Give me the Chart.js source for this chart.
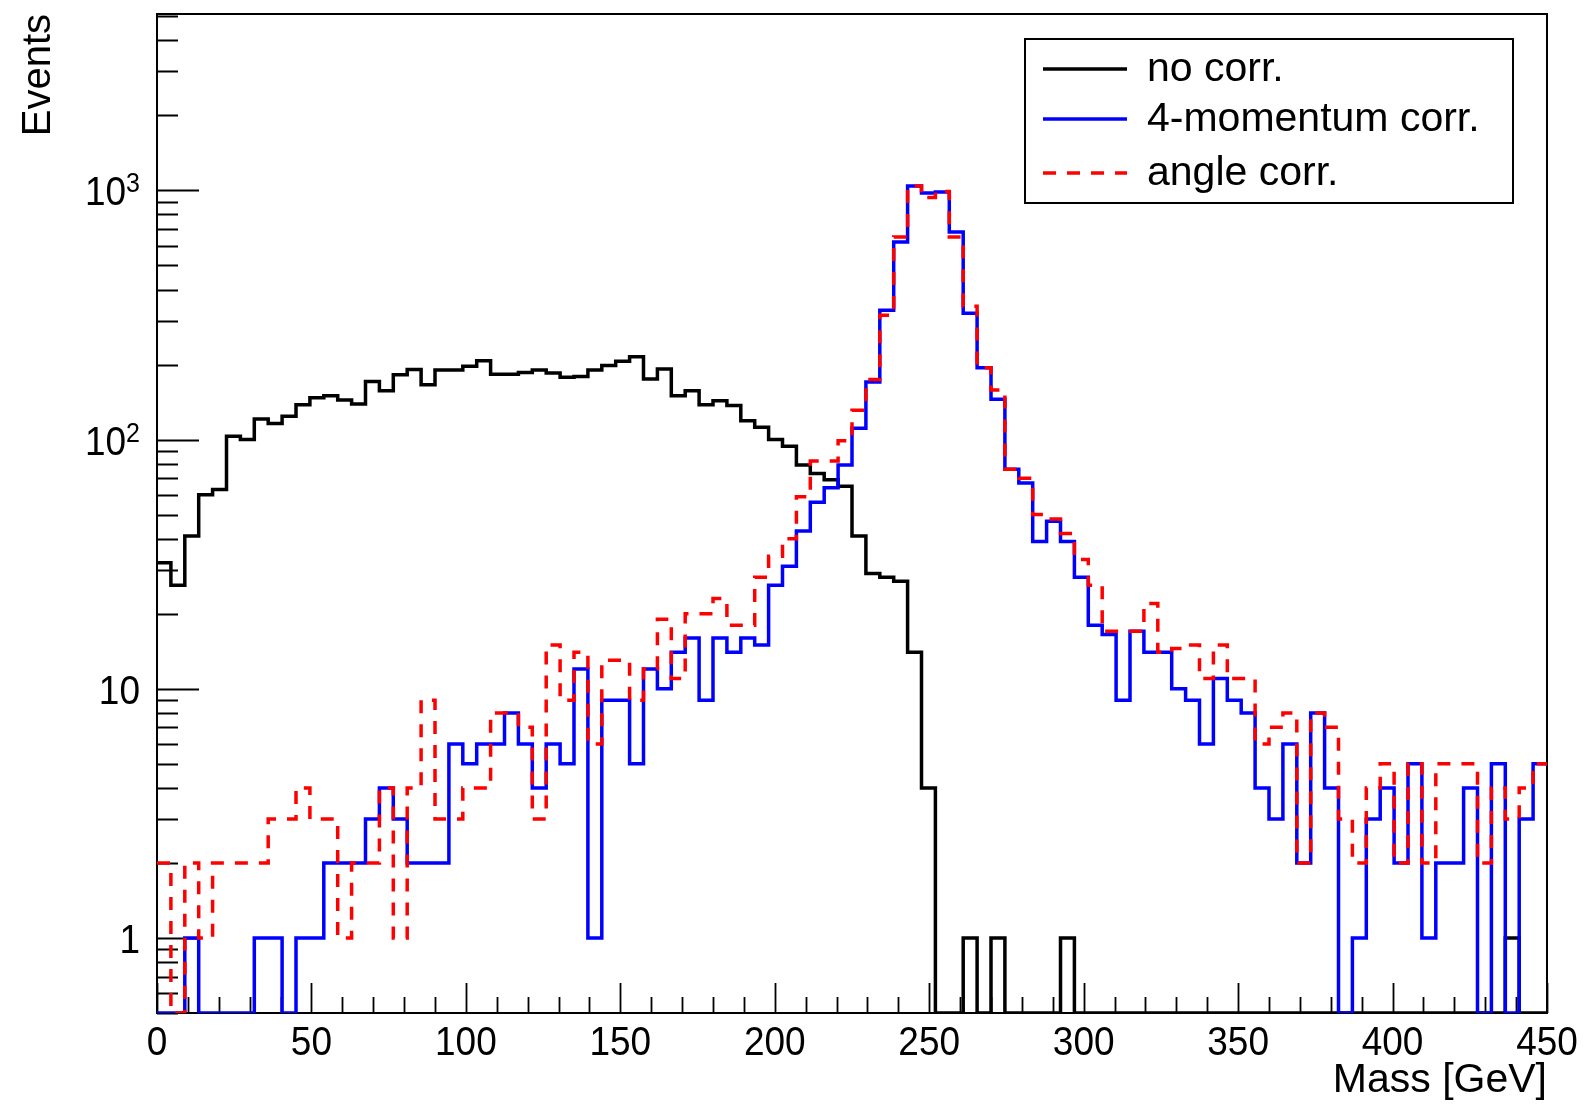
<!DOCTYPE html>
<html><head><meta charset="utf-8">
<script src="https://cdn.jsdelivr.net/npm/chart.js@4.4.0/dist/chart.umd.min.js"></script>
<style>html,body{margin:0;padding:0;background:#fff;}#wrap{width:1588px;height:1105px;}</style>
</head><body><div id="wrap"><canvas id="c" width="1588" height="1105"></canvas></div>
<script>
// ---- data (100 bins of 4.5 GeV, 0-450 GeV) ----
const binWidth = 4.5;
const xMin = 0, xMax = 450;
const yMin = 0.5, yMax = 5100;
const seriesLabels = ['no corr.', '4-momentum corr.', 'angle corr.'];
const noCorr = [
 32,26,41,60,63,103,100,121,116,124,
 138,147,150,144,139,171,157,182,191,166,
 190,190,197,207,183,183,186,190,185,178,
 179,190,198,206,215,175,192,150,157,138,
 143,137,119,112,100,94,79,73,69,65,
 41,29,28,27,14,4,0,0,1,0,
 1,0,0,0,0,1,0,0,0,0,
 0,0,0,0,0,0,0,0,0,0,
 0,0,0,0,0,0,0,0,0,0,
 0,0,0,0,0,0,0,1,0,0];
const fourMomCorr = [
 0,0,1,0,0,0,0,1,1,0,
 1,1,2,2,2,3,4,3,2,2,
 2,6,5,6,6,8,6,4,6,5,
 12,1,9,9,5,12,10,14,16,9,
 16,14,16,15,26,31,43,56,64,79,
 111,170,330,620,1040,975,985,680,321,194,
 145,76,67,39,47,39,28,18,16.5,9,
 17,14,14,10,9,6,11,9,8,4,
 3,6,2,8,4,0,1,3,4,2,
 5,1,2,2,4,0,5,0,3,5];
const angleCorr = [
 2,0,2,1,2,2,2,2,3,3,
 4,3,3,1,2,2,4,1,4,9,
 3,3,4,4,8,8,7,3,15,9,
 14,6,13,13,9,12,19,11,20,20,
 23,18,18,28,34,40,59,82,82,99,
 131,174,315,650,1040,935,990,650,343,194,
 158,76,70,50,48,42,33,26,17,17,
 17,22,14,14.5,15,11,15,11,11,6,
 7,8,2,8,7,3,2,4,5,2,
 5,2,5,5,5,2,4,3,4,5];
const xTicks = [0,10,20,30,40,50,60,70,80,90,100,110,120,130,140,150,160,170,180,190,200,
 210,220,230,240,250,260,270,280,290,300,310,320,330,340,350,360,370,380,390,400,410,420,430,440,450];
const xLabelStep = 50;
const yTicks = [0.5,0.6,0.7,0.8,0.9,1,2,3,4,5,6,7,8,9,10,20,30,40,50,60,70,80,90,
 100,200,300,400,500,600,700,800,900,1000,2000,3000,4000,5000];
// y tick labels: [base, exponent]
const yTickLabels = {1: ['1', ''], 10: ['10', ''], 100: ['10', '2'], 1000: ['10', '3']};
const xTitle = 'Mass [GeV]';
const yTitle = 'Events';

// ---- build histogram step points from the arrays ----
const binLow = noCorr.map((_, i) => xMin + i * binWidth);
function histPoints(vals) {
  const pts = vals.map((v, i) => ({x: binLow[i], y: v > 0 ? v : yMin}));
  const last = vals[vals.length - 1];
  pts.push({x: xMax, y: last > 0 ? last : yMin});
  return pts;
}

const FONT = "'Liberation Sans', Arial, Helvetica, sans-serif";
const LABEL_SIZE = 37, LABEL_STRETCH = 1.12;

function stretchedText(ctx, text, x, y, align, size) {
  ctx.save();
  ctx.translate(x, y);
  ctx.scale(1, LABEL_STRETCH);
  ctx.font = size + 'px ' + FONT;
  ctx.textAlign = align;
  ctx.textBaseline = 'alphabetic';
  ctx.fillText(text, 0, 0);
  ctx.restore();
}

const rootFrame = {
  id: 'rootFrame',
  beforeDatasetsDraw(chart) {
    const {ctx, chartArea: a, scales: {x, y}} = chart;
    ctx.save();
    ctx.strokeStyle = '#000';
    ctx.lineWidth = 2;
    ctx.strokeRect(a.left, a.top, a.right - a.left, a.bottom - a.top);
    ctx.beginPath();
    y.ticks.forEach(t => {
      const py = Math.round(y.getPixelForValue(t.value)) + 0.5;
      const major = yTickLabels[t.value] !== undefined;
      ctx.moveTo(a.left, py);
      ctx.lineTo(a.left + (major ? 42 : 21), py);
    });
    x.ticks.forEach(t => {
      const px = Math.round(x.getPixelForValue(t.value)) + 0.5;
      const major = t.value % xLabelStep === 0;
      ctx.moveTo(px, a.bottom);
      ctx.lineTo(px, a.bottom - (major ? 30 : 16));
    });
    ctx.lineWidth = 1.8;
    ctx.stroke();

    // tick labels
    ctx.fillStyle = '#000';
    x.ticks.forEach(t => {
      if (t.value % xLabelStep !== 0) return;
      stretchedText(ctx, String(t.value), x.getPixelForValue(t.value), a.bottom + 42, 'center', LABEL_SIZE);
    });
    const rightEdge = a.left - 17;
    y.ticks.forEach(t => {
      const lab = yTickLabels[t.value];
      if (!lab) return;
      const py = y.getPixelForValue(t.value);
      const base = py + 15;
      ctx.font = '25px ' + FONT;
      const expW = lab[1] ? ctx.measureText(lab[1]).width : 0;
      stretchedText(ctx, lab[0], rightEdge - expW, base, 'right', LABEL_SIZE);
      if (lab[1]) stretchedText(ctx, lab[1], rightEdge, base - 13, 'right', 25);
    });
    ctx.restore();
  },
  afterDatasetsDraw(chart) {
    const {ctx} = chart;
    const box = {l: 1025, t: 39, r: 1513, b: 203};
    ctx.save();
    ctx.fillStyle = '#fff';
    ctx.fillRect(box.l, box.t, box.r - box.l, box.b - box.t);
    ctx.strokeStyle = '#000';
    ctx.lineWidth = 2;
    ctx.strokeRect(box.l, box.t, box.r - box.l, box.b - box.t);
    const rows = [69, 119, 173];
    chart.data.datasets.forEach((ds, i) => {
      const yy = rows[i];
      ctx.beginPath();
      ctx.setLineDash(ds.borderDash || []);
      ctx.strokeStyle = ds.borderColor;
      ctx.lineWidth = 3.5;
      ctx.moveTo(1043, yy);
      ctx.lineTo(1127, yy);
      ctx.stroke();
      ctx.setLineDash([]);
      ctx.fillStyle = '#000';
      ctx.font = '41px ' + FONT;
      ctx.textBaseline = 'middle';
      ctx.textAlign = 'left';
      ctx.fillText(ds.label, 1147, yy + 1);
    });
    ctx.restore();
  }
};

new Chart(document.getElementById('c'), {
  type: 'line',
  data: {
    datasets: [
      {label: seriesLabels[0], data: histPoints(noCorr), borderColor: '#000000', borderWidth: 3.5, stepped: 'before', order: 3},
      {label: seriesLabels[1], data: histPoints(fourMomCorr), borderColor: '#0000ff', borderWidth: 3.5, stepped: 'before', order: 2},
      {label: seriesLabels[2], data: histPoints(angleCorr), borderColor: '#ff0000', borderWidth: 3.5, borderDash: [13, 11], stepped: 'before', order: 1}
    ]
  },
  options: {
    responsive: false,
    animation: false,
    devicePixelRatio: 1,
    layout: {padding: {left: 0, top: 14, right: 41, bottom: 0}},
    elements: {point: {radius: 0, hoverRadius: 0}, line: {tension: 0, fill: false}},
    plugins: {legend: {display: false}, tooltip: {enabled: false}},
    scales: {
      x: {
        type: 'linear', min: xMin, max: xMax,
        grid: {display: false, drawTicks: false},
        border: {display: false},
        afterBuildTicks: s => { s.ticks = xTicks.map(v => ({value: v})); },
        afterFit: s => { s.height = 92; s.paddingLeft = 0; s.paddingRight = 0; },
        ticks: {display: false, autoSkip: false},
        title: {display: true, text: xTitle, align: 'end', color: '#000',
          font: {family: FONT, size: 41}, padding: {top: 0, bottom: 0}}
      },
      y: {
        type: 'logarithmic', min: yMin, max: yMax,
        grid: {display: false, drawTicks: false},
        border: {display: false},
        afterBuildTicks: s => { s.ticks = yTicks.map(v => ({value: v})); },
        afterFit: s => { s.width = 157; s.paddingTop = 0; s.paddingBottom = 0; },
        ticks: {display: false, autoSkip: false},
        title: {display: true, text: yTitle, align: 'end', color: '#000',
          font: {family: FONT, size: 40}, padding: {top: 15, bottom: 0}}
      }
    }
  },
  plugins: [rootFrame]
});
</script>
</body></html>
